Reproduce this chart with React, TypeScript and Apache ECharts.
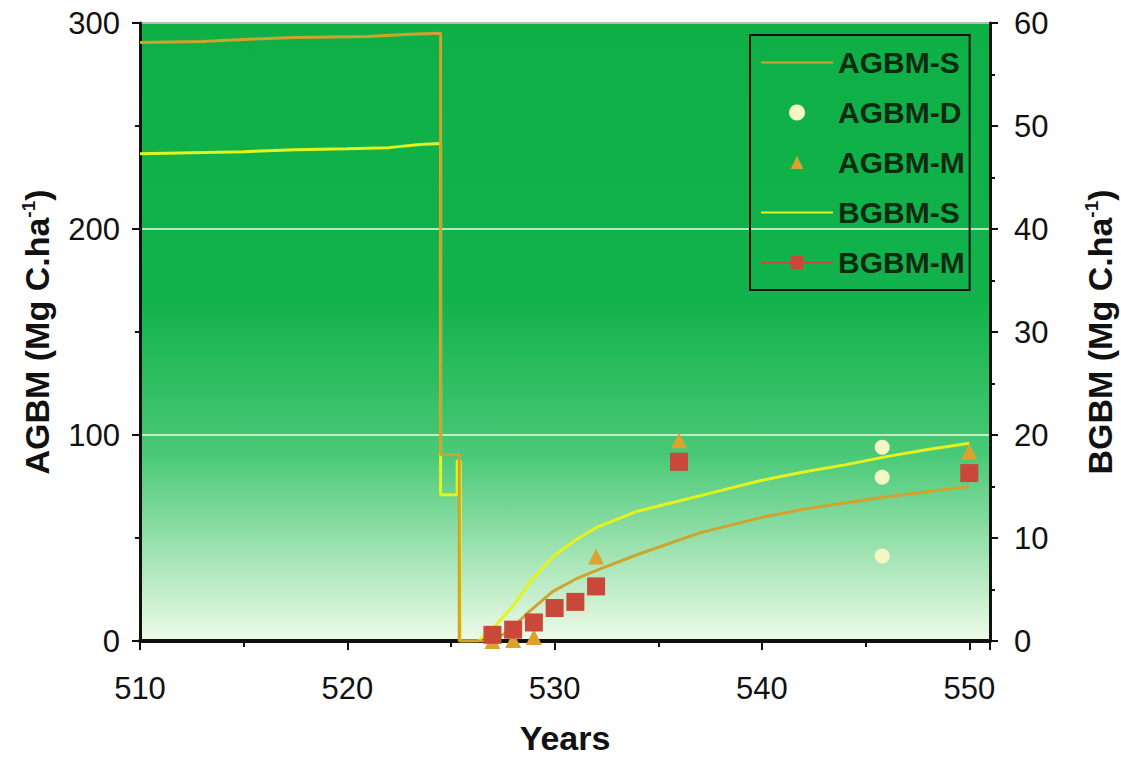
import React, { useEffect, useRef } from "react";
import * as echarts from "echarts";

// ---- data ----
const agbmSYears = [510, 513, 515, 517.5, 521, 523, 524.5, 524.5, 525.4, 525.4, 527, 527.8, 528.7, 529.9, 531, 532.2, 534, 537, 540, 542, 544, 546, 548, 550];
const agbmSValues = [290.5, 291, 292, 293, 293.5, 294.5, 295, 90.5, 90.5, 0, 0, 5, 13.6, 24, 30, 35, 42, 52.5, 60, 64, 67, 70, 72.5, 75];

const bgbmSYears = [510, 515, 517.5, 520, 522, 523.5, 524.5, 524.5, 525.3, 525.3, 525.45, 525.45, 526.3, 527, 528, 529, 530, 531, 532, 534, 536, 538, 540, 542, 544, 546, 548, 550];
const bgbmSValues = [47.3, 47.5, 47.7, 47.8, 47.9, 48.2, 48.3, 14.2, 14.2, 17.5, 17.5, 0, 0, 1.2, 3.4, 6.2, 8.3, 9.8, 11.0, 12.6, 13.6, 14.6, 15.6, 16.4, 17.1, 17.9, 18.6, 19.2];

const agbmDYears = [545.8, 545.8, 545.8];
const agbmDValues = [94, 79.5, 41.3];

const agbmMYears = [527, 528, 529, 532, 536, 550];
const agbmMValues = [0, 0.5, 2, 41, 97.5, 92];

const bgbmMYears = [527, 528, 529, 530, 531, 532, 536, 550];
const bgbmMValues = [0.6, 1.1, 1.8, 3.2, 3.8, 5.3, 17.4, 16.3];

const xTicks = { min: 510, max: 551, interval: 10 };
const leftTicks = { min: 0, max: 300, interval: 100 };
const rightTicks = { min: 0, max: 60, interval: 10 };

const pair = (xs: number[], ys: number[]) => xs.map((x, i) => [x, ys[i]]);

const FONT = "Liberation Sans";

export default function App() {
  const ref = useRef<HTMLDivElement>(null);
  useEffect(() => {
    document.body.style.margin = "0";
    const chart = echarts.init(ref.current!, null, { renderer: "svg" });
    const axisLineStyle = { color: "#111", width: 3 };
    const labelStyle = { fontFamily: FONT, fontSize: 31, color: "#111" };
    const nameStyle = {
      fontFamily: FONT,
      fontSize: 34,
      fontWeight: "bold" as const,
      color: "#111",
      rich: {
        sup: { fontFamily: FONT, fontSize: 19, fontWeight: "bold", color: "#111", verticalAlign: "top", padding: [0, 0, 16, 0] },
      },
    };
    chart.setOption({
      animation: false,
      backgroundColor: "#ffffff",
      grid: {
        left: 140,
        right: 131,
        top: 23,
        bottom: 116,
        outerBoundsMode: "none",
        containLabel: false,
        show: true,
        borderColor: "#111",
        borderWidth: 2,
        backgroundColor: new echarts.graphic.LinearGradient(0, 0, 0, 1, [
          { offset: 0, color: "#0eb046" },
          { offset: 0.45, color: "#12b24c" },
          { offset: 0.7, color: "#4ac977" },
          { offset: 1, color: "#eefbe8" },
        ]),
      },
      legend: {
        orient: "vertical",
        left: 750,
        top: 35,
        padding: [12, 5, 12, 10],
        itemWidth: 72,
        itemHeight: 16,
        itemGap: 19,
        borderColor: "#111",
        borderWidth: 2,
        backgroundColor: "transparent",
        textStyle: { fontFamily: FONT, fontSize: 30, fontWeight: "bold", color: "#0b2a12", lineHeight: 31 },
        data: [
          { name: "AGBM-S", itemStyle: { opacity: 0 } },
          { name: "AGBM-D" },
          { name: "AGBM-M", lineStyle: { opacity: 0 } },
          { name: "BGBM-S", itemStyle: { opacity: 0 } },
          { name: "BGBM-M", lineStyle: { color: "#c8483a", width: 2, opacity: 1 } },
        ],
      },
      xAxis: {
        type: "value",
        ...xTicks,
        name: "Years",
        nameLocation: "middle",
        nameGap: 80,
        nameTextStyle: { fontFamily: FONT, fontSize: 34, fontWeight: "bold", color: "#111", lineHeight: 34 },
        axisLine: { onZero: false, lineStyle: { color: "#111", width: 4 } },
        axisTick: { show: true, inside: false, length: 9, lineStyle: { color: "#111", width: 2 } },
        minorTick: { show: true, splitNumber: 2, length: 6, lineStyle: { color: "#111", width: 2 } },
        axisLabel: { ...labelStyle, margin: 32, showMaxLabel: false },
        splitLine: { show: false },
      },
      yAxis: [
        {
          type: "value",
          ...leftTicks,
          name: "AGBM (Mg C.ha{sup|-1})",
          nameLocation: "middle",
          nameGap: 86,
          nameRotate: 90,
          nameTextStyle: nameStyle,
          axisLine: { show: true, onZero: false, lineStyle: axisLineStyle },
          axisTick: { show: true, inside: false, length: 8, lineStyle: { color: "#111", width: 2 } },
          minorTick: { show: true, splitNumber: 2, length: 5, lineStyle: { color: "#111", width: 2 } },
          axisLabel: { ...labelStyle, margin: 20 },
          splitLine: { show: true, lineStyle: { color: "#e8fbe2", width: 1.5 } },
        },
        {
          type: "value",
          ...rightTicks,
          position: "right",
          name: "BGBM (Mg C.ha{sup|-1})",
          nameLocation: "middle",
          nameGap: 92,
          nameRotate: 90,
          nameTextStyle: nameStyle,
          axisLine: { show: true, onZero: false, lineStyle: axisLineStyle },
          axisTick: { show: true, inside: false, length: 8, lineStyle: { color: "#111", width: 2 } },
          minorTick: { show: true, splitNumber: 2, length: 5, lineStyle: { color: "#111", width: 2 } },
          axisLabel: { ...labelStyle, margin: 24 },
          splitLine: { show: false },
        },
      ],
      series: [
        {
          name: "BGBM-S",
          type: "line",
          yAxisIndex: 1,
          symbol: "none",
          data: pair(bgbmSYears, bgbmSValues),
          lineStyle: { color: "#e6f21e", width: 3 },
          itemStyle: { color: "#e6f21e" },
          z: 2,
        },
        {
          name: "AGBM-S",
          type: "line",
          yAxisIndex: 0,
          symbol: "none",
          data: pair(agbmSYears, agbmSValues),
          lineStyle: { color: "#cfa32e", width: 3 },
          itemStyle: { color: "#cfa32e" },
          z: 3,
        },
        {
          name: "AGBM-D",
          type: "scatter",
          yAxisIndex: 0,
          symbol: "circle",
          symbolSize: 15,
          data: pair(agbmDYears, agbmDValues),
          itemStyle: { color: "#f4f6c6", opacity: 1 },
          z: 4,
        },
        {
          name: "AGBM-M",
          type: "line",
          yAxisIndex: 0,
          symbol: "triangle",
          symbolSize: 16,
          showSymbol: true,
          data: pair(agbmMYears, agbmMValues),
          lineStyle: { color: "#dca22e", width: 0, opacity: 0 },
          itemStyle: { color: "#dca22e", opacity: 1 },
          z: 4,
        },
        {
          name: "BGBM-M",
          type: "line",
          yAxisIndex: 1,
          symbol: "rect",
          symbolSize: 18,
          showSymbol: true,
          data: pair(bgbmMYears, bgbmMValues),
          lineStyle: { color: "#c8483a", width: 0, opacity: 0 },
          itemStyle: { color: "#c8483a", opacity: 1 },
          z: 5,
        },
      ],
    });
    return () => chart.dispose();
  }, []);
  return <div ref={ref} style={{ position: "fixed", left: 0, top: 0, width: 1121, height: 757 }} />;
}
